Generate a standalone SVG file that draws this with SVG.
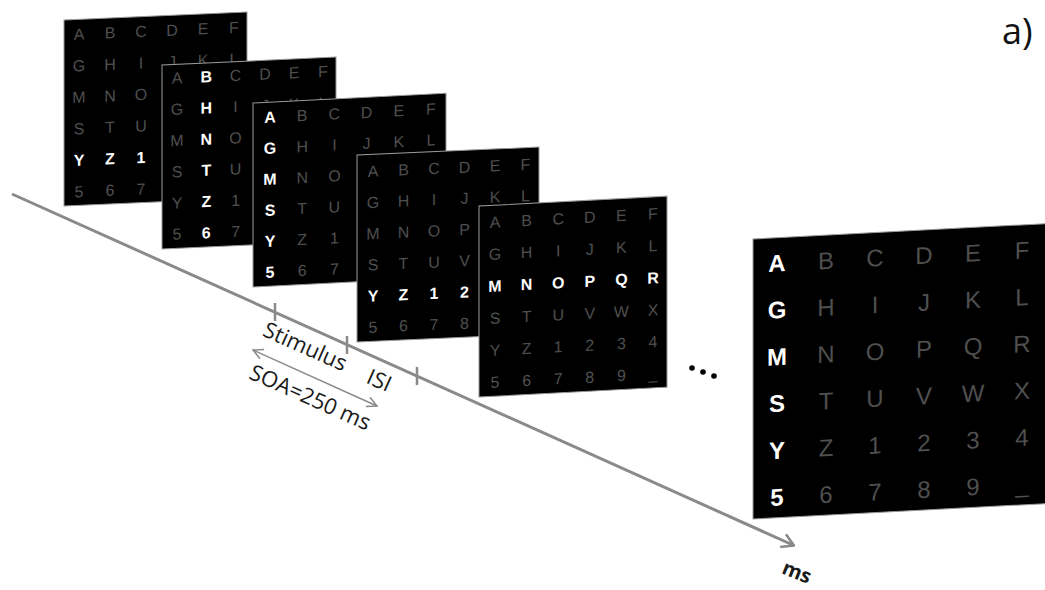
<svg xmlns="http://www.w3.org/2000/svg" width="1045" height="590" viewBox="0 0 1045 590">
<style>
.bg{fill:#000;stroke:#9a9a9a;stroke-width:1}
.g{fill:#4f4f4f;font-family:"Liberation Sans",Arial,sans-serif;font-size:16px;text-anchor:middle}
.G{fill:#4f4f4f;font-family:"Liberation Sans",Arial,sans-serif;font-size:24px;text-anchor:middle}
.h{fill:#fff;font-weight:bold}
.lbl{fill:#1a1a1a;font-family:"Open Sans","Noto Sans",sans-serif;font-size:22px;text-anchor:middle}
.ax{stroke:#8a8a8a;fill:none}
</style>
<defs>
<marker id="arr" viewBox="0 0 14 16" refX="13" refY="8" markerWidth="14" markerHeight="16" markerUnits="userSpaceOnUse" orient="auto"><path d="M1,1 L13,8 L1,15" fill="none" stroke="#8a8a8a" stroke-width="2.5"/></marker>
<marker id="sarr" viewBox="0 0 12 12" refX="11" refY="6" markerWidth="12" markerHeight="12" markerUnits="userSpaceOnUse" orient="auto-start-reverse"><path d="M1,1 L11,6 L1,11" fill="none" stroke="#8a8a8a" stroke-width="1.5"/></marker>
</defs>

<g id="panel1" transform="translate(64,20) skewY(-2.5)">
<rect class="bg" x="0" y="0" width="183" height="186"/>
<text class="g" x="15 46 77 108 139 170" y="20.4">ABCDEF</text>
<text class="g" x="15 46 77 108 139 170" y="51.9">GHIJKL</text>
<text class="g" x="15 46 77 108 139 170" y="83.4">MNOPQR</text>
<text class="g" x="15 46 77 108 139 170" y="114.9">STUVWX</text>
<text class="g" x="15 46 77 108 139 170" y="146.4"><tspan class="h">YZ1234</tspan></text>
<text class="g" x="15 46 77 108 139 170" y="177.9">56789_</text>
</g>

<g id="panel2" transform="translate(162,65) skewY(-2.6)">
<rect class="bg" x="0" y="0" width="174" height="184"/>
<text class="g" x="15 44.3 73.6 103 132 161" y="19.3">A<tspan class="h">B</tspan>CDEF</text>
<text class="g" x="15 44.3 73.6 103 132 161" y="50.5">G<tspan class="h">H</tspan>IJKL</text>
<text class="g" x="15 44.3 73.6 103 132 161" y="81.7">M<tspan class="h">N</tspan>OPQR</text>
<text class="g" x="15 44.3 73.6 103 132 161" y="112.9">S<tspan class="h">T</tspan>UVWX</text>
<text class="g" x="15 44.3 73.6 103 132 161" y="144.1">Y<tspan class="h">Z</tspan>1234</text>
<text class="g" x="15 44.3 73.6 103 132 161" y="175.3">5<tspan class="h">6</tspan>789_</text>
</g>

<g id="panel3" transform="translate(253,103) skewY(-2.9)">
<rect class="bg" x="0" y="0" width="193" height="184"/>
<text class="g" x="17 49.2 81.4 113.6 145.8 178" y="20.6"><tspan class="h">A</tspan>BCDEF</text>
<text class="g" x="17 49.2 81.4 113.6 145.8 178" y="51.6"><tspan class="h">G</tspan>HIJKL</text>
<text class="g" x="17 49.2 81.4 113.6 145.8 178" y="82.6"><tspan class="h">M</tspan>NOPQR</text>
<text class="g" x="17 49.2 81.4 113.6 145.8 178" y="113.6"><tspan class="h">S</tspan>TUVWX</text>
<text class="g" x="17 49.2 81.4 113.6 145.8 178" y="144.6"><tspan class="h">Y</tspan>Z1234</text>
<text class="g" x="17 49.2 81.4 113.6 145.8 178" y="175.6"><tspan class="h">5</tspan>6789_</text>
</g>

<g id="panel4" transform="translate(357,155) skewY(-2.5)">
<rect class="bg" x="0" y="0" width="182" height="187"/>
<text class="g" x="16 46.5 77 107.5 138 168.5" y="22.4">ABCDEF</text>
<text class="g" x="16 46.5 77 107.5 138 168.5" y="53.6">GHIJKL</text>
<text class="g" x="16 46.5 77 107.5 138 168.5" y="84.8">MNOPQR</text>
<text class="g" x="16 46.5 77 107.5 138 168.5" y="116">STUVWX</text>
<text class="g" x="16 46.5 77 107.5 138 168.5" y="147.2"><tspan class="h">YZ1234</tspan></text>
<text class="g" x="16 46.5 77 107.5 138 168.5" y="178.4">56789_</text>
</g>

<g id="panel5" transform="translate(479,206) skewY(-3)">
<rect class="bg" x="0" y="0" width="188" height="191"/>
<text class="g" x="16 47.6 79.2 110.8 142.4 174" y="22.5">ABCDEF</text>
<text class="g" x="16 47.6 79.2 110.8 142.4 174" y="54.5">GHIJKL</text>
<text class="g" x="16 47.6 79.2 110.8 142.4 174" y="86.5"><tspan class="h">MNOPQR</tspan></text>
<text class="g" x="16 47.6 79.2 110.8 142.4 174" y="118.5">STUVWX</text>
<text class="g" x="16 47.6 79.2 110.8 142.4 174" y="150.5">YZ1234</text>
<text class="g" x="16 47.6 79.2 110.8 142.4 174" y="182.5">56789_</text>
</g>

<g id="ellipsis" fill="#000">
<circle cx="692" cy="368" r="2.8"/>
<circle cx="703" cy="372" r="2.8"/>
<circle cx="714" cy="376" r="2.8"/>
</g>

<g id="bigpanel" transform="translate(753,239) skewY(-3)">
<rect class="bg" x="0" y="0" width="300" height="280"/>
<text class="G" x="24 73 122 171 220 269" y="33.8"><tspan class="h">A</tspan>BCDEF</text>
<text class="G" x="24 73 122 171 220 269" y="80.6"><tspan class="h">G</tspan>HIJKL</text>
<text class="G" x="24 73 122 171 220 269" y="127.4"><tspan class="h">M</tspan>NOPQR</text>
<text class="G" x="24 73 122 171 220 269" y="174.2"><tspan class="h">S</tspan>TUVWX</text>
<text class="G" x="24 73 122 171 220 269" y="221"><tspan class="h">Y</tspan>Z1234</text>
<text class="G" x="24 73 122 171 220 269" y="267.8"><tspan class="h">5</tspan>6789_</text>
</g>

<g id="connectors">
<line class="ax" x1="12" y1="194" x2="794" y2="545.5" stroke-width="3" marker-end="url(#arr)"/>
<line class="ax" x1="275" y1="303" x2="275" y2="321" stroke-width="2.5"/>
<line class="ax" x1="347" y1="336" x2="347" y2="354" stroke-width="2.5"/>
<line class="ax" x1="417" y1="367" x2="417" y2="385" stroke-width="2.5"/>
<line class="ax" x1="253" y1="350" x2="377" y2="406" stroke-width="1.5" marker-start="url(#sarr)" marker-end="url(#sarr)"/>
</g>

<g id="labels">
<text class="lbl" transform="translate(305,347) rotate(24)" y="7">Stimulus</text>
<text class="lbl" transform="translate(379,381) rotate(24)" y="7">ISI</text>
<text class="lbl" transform="translate(310,398) rotate(24)" y="7">SOA=250 ms</text>
<text class="lbl" transform="translate(797,572) rotate(22)" y="7" style="font-size:20px;font-weight:bold">ms</text>
<text x="1002" y="44" style="font-family:'Open Sans','Noto Sans',sans-serif;font-size:36px;fill:#111">a)</text>
</g>
</svg>
